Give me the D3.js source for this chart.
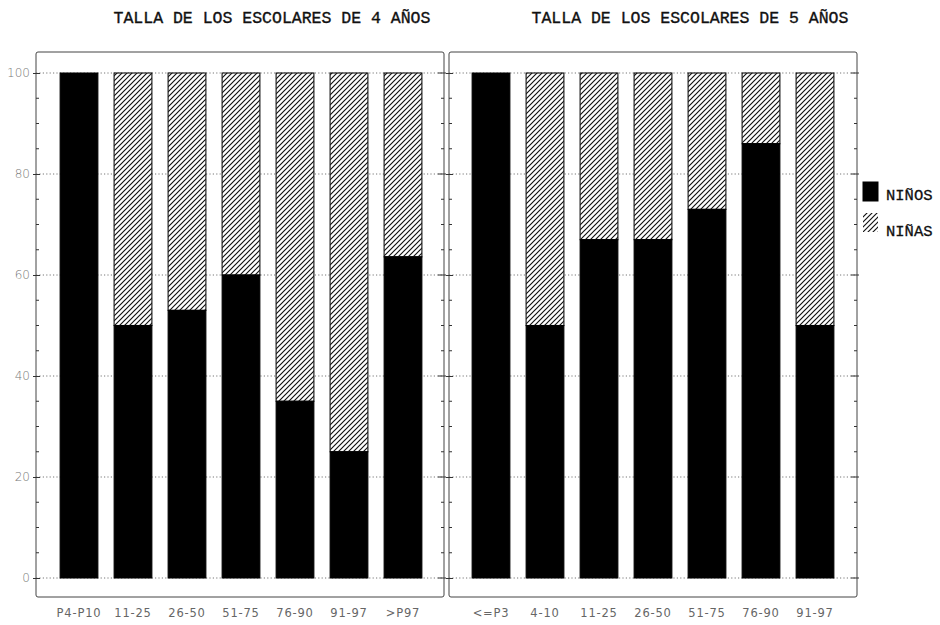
<!DOCTYPE html>
<html>
<head>
<meta charset="utf-8">
<script src="https://cdn.jsdelivr.net/npm/d3@7"></script>
<style>
  html, body { margin: 0; padding: 0; background: #fff; }
  svg { display: block; }
</style>
</head>
<body>
<svg id="chart" width="940" height="625"></svg>
<script>
// ---- data ----
const titles = ["TALLA DE LOS ESCOLARES DE 4 AÑOS", "TALLA DE LOS ESCOLARES DE 5 AÑOS"];
const cats4 = ["P4-P10", "11-25", "26-50", "51-75", "76-90", "91-97", ">P97"];
const ninos4 = [100, 50, 53, 60, 35, 25, 63.6];
const ninas4 = [0, 50, 47, 40, 65, 75, 36.4];
const cats5 = ["<=P3", "4-10", "11-25", "26-50", "51-75", "76-90", "91-97"];
const ninos5 = [100, 50, 67, 67, 73, 86, 50];
const ninas5 = [0, 50, 33, 33, 27, 14, 50];
const yTicks = [0, 20, 40, 60, 80, 100];
const yMinor = d3.range(0, 101, 5);
const legendLabels = ["NIÑOS", "NIÑAS"];

const svg = d3.select("#chart");

// hatch pattern
const defs = svg.append("defs");
const T = 5;
const pat = defs.append("pattern")
  .attr("id", "hatch")
  .attr("patternUnits", "userSpaceOnUse")
  .attr("width", T).attr("height", T);
pat.append("rect").attr("width", T).attr("height", T).attr("fill", "#fff");
pat.append("path")
  .attr("d", `M0,${T} L${T},0 M-1,1 L1,-1 M${T - 1},${T + 1} L${T + 1},${T - 1}`)
  .attr("stroke", "#111").attr("stroke-width", 1.15);

const y = d3.scaleLinear().domain([0, 100]).range([578, 73]);

const panels = [
  { cats: cats4, boys: ninos4, girls: ninas4, title: titles[0],
    frame: [36, 444], band: [52, 430], labels: true, titleX: 272 },
  { cats: cats5, boys: ninos5, girls: ninas5, title: titles[1],
    frame: [449, 857], band: [464, 842], labels: false, titleX: 690 }
];

const frameTop = 52, frameBottom = 597;

panels.forEach(p => {
  const g = svg.append("g");
  const x = d3.scaleBand().domain(p.cats).range(p.band)
    .paddingInner(0.3).paddingOuter(0.15);

  // frame
  g.append("rect")
    .attr("x", p.frame[0]).attr("y", frameTop)
    .attr("width", p.frame[1] - p.frame[0]).attr("height", frameBottom - frameTop)
    .attr("rx", 2)
    .attr("fill", "none").attr("stroke", "#444").attr("stroke-width", 1);

  // dotted gridlines
  g.selectAll("line.grid").data(yTicks).join("line")
    .attr("class", "grid")
    .attr("x1", p.frame[0]).attr("x2", p.frame[1])
    .attr("y1", d => y(d)).attr("y2", d => y(d))
    .attr("stroke", "#666").attr("stroke-width", 0.9)
    .attr("stroke-dasharray", "1.2,2.2");

  // left axis
  const axL = d3.axisLeft(y).tickValues(yTicks).tickSize(3).tickPadding(3)
    .tickFormat(p.labels ? d3.format("d") : "");
  const gL = g.append("g").attr("transform", `translate(${p.frame[0]},0)`).call(axL);
  gL.select(".domain").remove();
  gL.selectAll(".tick line").attr("stroke", "#333").attr("x2", 4).attr("x1", -3);
  gL.selectAll(".tick text")
    .attr("font-family", "'DejaVu Sans', sans-serif")
    .attr("font-size", 12).attr("fill", "#777").attr("font-weight", 300);
  // minor ticks left
  g.selectAll("line.minl").data(yMinor.filter(d => d % 20 !== 0)).join("line")
    .attr("class", "minl")
    .attr("x1", p.frame[0]).attr("x2", p.frame[0] + 3)
    .attr("y1", d => y(d)).attr("y2", d => y(d))
    .attr("stroke", "#333").attr("stroke-width", 1);

  // right ticks
  g.selectAll("line.majr").data(yTicks).join("line")
    .attr("class", "majr")
    .attr("x1", p.frame[1] - 6).attr("x2", p.frame[1] + 2)
    .attr("y1", d => y(d)).attr("y2", d => y(d))
    .attr("stroke", "#333").attr("stroke-width", 1);
  g.selectAll("line.minr").data(yMinor.filter(d => d % 20 !== 0)).join("line")
    .attr("class", "minr")
    .attr("x1", p.frame[1] - 3).attr("x2", p.frame[1])
    .attr("y1", d => y(d)).attr("y2", d => y(d))
    .attr("stroke", "#333").attr("stroke-width", 1);

  // bars: boys (black) bottom, girls (hatched) on top
  const data = p.cats.map((c, i) => ({ c, b: p.boys[i], gi: p.girls[i] }));
  g.selectAll("rect.girls").data(data.filter(d => d.gi > 0)).join("rect")
    .attr("class", "girls")
    .attr("x", d => x(d.c)).attr("width", x.bandwidth())
    .attr("y", d => y(d.b + d.gi)).attr("height", d => y(d.b) - y(d.b + d.gi))
    .attr("fill", "url(#hatch)").attr("stroke", "#111").attr("stroke-width", 1.1);
  g.selectAll("rect.boys").data(data).join("rect")
    .attr("class", "boys")
    .attr("x", d => x(d.c)).attr("width", x.bandwidth())
    .attr("y", d => y(d.b)).attr("height", d => y(0) - y(d.b))
    .attr("fill", "#000").attr("stroke", "#000").attr("stroke-width", 1);

  // x labels
  const axB = d3.axisBottom(x).tickSize(0).tickPadding(0);
  const gB = g.append("g").attr("transform", `translate(0,${frameBottom + 5})`).call(axB);
  gB.select(".domain").remove();
  gB.selectAll(".tick text")
    .attr("dy", "1em").attr("y", 3)
    .attr("font-family", "'DejaVu Sans', sans-serif")
    .attr("font-size", 11.5).attr("fill", "#666")
    .attr("letter-spacing", "0.8px");

  // title
  svg.append("text")
    .attr("x", p.titleX).attr("y", 23)
    .attr("text-anchor", "middle")
    .attr("font-family", "'Liberation Mono', 'Courier New', monospace")
    .attr("font-size", 16.5).attr("fill", "#111")
    .attr("stroke", "#111").attr("stroke-width", 0.35)
    .text(p.title);
});

// legend
const lg = svg.append("g");
const legendFills = ["#000", "url(#hatch)"];
legendLabels.forEach((t, i) => {
  lg.append("rect")
    .attr("x", 863).attr("y", 182 + i * 31)
    .attr("width", 15).attr("height", 19)
    .attr("fill", legendFills[i]).attr("stroke", i === 0 ? "#000" : "none");
  lg.append("text")
    .attr("x", 886).attr("y", 200 + i * 36)
    .attr("font-family", "'Liberation Mono', 'Courier New', monospace")
    .attr("font-size", 15.5).attr("fill", "#111")
    .attr("stroke", "#111").attr("stroke-width", 0.3)
    .text(t);
});
</script>
</body>
</html>
